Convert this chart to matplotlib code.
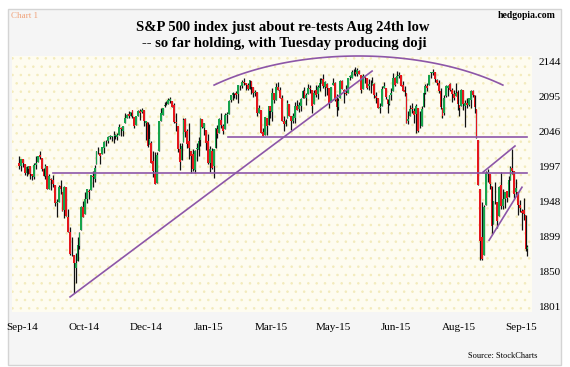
import numpy as np
import matplotlib.pyplot as plt
from matplotlib.patches import Rectangle

# S&P 500 daily candles, 4 Sep 2014 .. 29 Sep 2015
opens = [
    2002, 1998, 2007, 2001, 1988, 1993, 1997, 1986, 1982, 1999, 2003, 2013, 2009, 1993, 1983, 1997, 1966, 1979, 1978,
    1971, 1946, 1948, 1970, 1962, 1936, 1968, 1926, 1906, 1877, 1874, 1856, 1865, 1886, 1909, 1941, 1931, 1952, 1963, 1964, 1983, 1979, 2001,
    2018, 2016, 2015, 2023, 2032, 2032, 2038, 2038, 2039, 2040, 2038, 2041, 2051, 2046, 2057, 2065, 2070, 2067, 2075,
    2066, 2055, 2067, 2074, 2073, 2075, 2057, 2059, 2028, 2030, 2005, 1987, 1974, 2019, 2061, 2069, 2081, 2083, 2084, 2088, 2088, 2082,
    2059, 2054, 2022, 2006, 2031, 2063, 2046, 2032, 2018, 2014, 1992, 2021, 2020, 2034, 2063, 2050, 2048, 2032, 2002, 2019,
    1997, 2023, 2049, 2043, 2062, 2053, 2049, 2069, 2070, 2089, 2096, 2099, 2099, 2098, 2110, 2109, 2115, 2114, 2111,
    2105, 2116, 2108, 2099, 2101, 2072, 2076, 2045, 2041, 2065, 2055, 2081, 2073, 2099, 2090, 2108, 2104, 2093, 2060, 2056, 2064, 2084,
    2068, 2060, 2065, 2081, 2077, 2081, 2092, 2102, 2092, 2098, 2106, 2103, 2084, 2103, 2098, 2107, 2113, 2119, 2108, 2112, 2106,
    2087, 2110, 2113, 2091, 2080, 2092, 2116, 2103, 2100, 2100, 2122, 2121, 2129, 2128, 2126, 2130, 2125, 2105, 2122, 2121,
    2109, 2110, 2111, 2112, 2095, 2092, 2079, 2081, 2106, 2107, 2091, 2084, 2097, 2102, 2121, 2113, 2123, 2124, 2110, 2103, 2099, 2061,
    2067, 2078, 2074, 2070, 2078, 2050, 2053, 2080, 2100, 2109, 2111, 2127, 2127, 2128, 2118, 2114, 2102, 2078, 2071, 2095, 2107, 2112,
    2104, 2098, 2095, 2101, 2083, 2081, 2103, 2081, 2086, 2083, 2090, 2102, 2096, 2077, 2034, 1965, 1898, 1873, 1943, 1986, 1987,
    1970, 1917, 1951, 1948, 1928, 1971, 1942, 1951, 1963, 1955, 1978, 1995, 1990, 1961, 1961, 1943, 1935, 1936, 1929, 1882,
]
highs = [
    2011, 2008, 2007, 2001, 1997, 1998, 1997, 1987, 2002, 2011, 2012, 2019, 2009, 1995, 2000, 1997, 1986, 1981, 1985,
    1971, 1952, 1971, 1978, 1962, 1970, 1968, 1937, 1912, 1899, 1874, 1876, 1898, 1905, 1942, 1949, 1962, 1965, 1965, 1985, 1991, 1999, 2018,
    2024, 2016, 2024, 2032, 2034, 2039, 2041, 2040, 2046, 2042, 2043, 2056, 2052, 2054, 2071, 2070, 2074, 2073, 2076,
    2066, 2068, 2076, 2077, 2079, 2076, 2061, 2059, 2056, 2032, 2019, 2017, 2017, 2061, 2078, 2079, 2087, 2088, 2093, 2094, 2088, 2086,
    2072, 2054, 2030, 2030, 2064, 2064, 2049, 2057, 2018, 2021, 2020, 2029, 2038, 2065, 2063, 2058, 2048, 2042, 2025, 2023,
    2022, 2050, 2055, 2064, 2072, 2056, 2071, 2073, 2089, 2097, 2101, 2100, 2102, 2111, 2110, 2118, 2120, 2114, 2113,
    2118, 2116, 2108, 2104, 2101, 2083, 2076, 2050, 2066, 2065, 2081, 2081, 2107, 2099, 2114, 2115, 2108, 2097, 2067, 2063, 2089, 2084,
    2068, 2072, 2087, 2090, 2087, 2093, 2103, 2108, 2099, 2112, 2111, 2103, 2104, 2110, 2110, 2120, 2121, 2126, 2116, 2114, 2106,
    2108, 2121, 2115, 2098, 2093, 2118, 2118, 2105, 2110, 2121, 2124, 2132, 2133, 2135, 2134, 2132, 2125, 2126, 2122, 2121,
    2119, 2118, 2122, 2113, 2101, 2093, 2086, 2109, 2115, 2107, 2091, 2097, 2107, 2127, 2122, 2130, 2128, 2125, 2116, 2109, 2099, 2074,
    2083, 2085, 2079, 2084, 2078, 2074, 2081, 2101, 2112, 2114, 2124, 2129, 2133, 2128, 2119, 2117, 2106, 2078, 2096, 2111, 2110, 2114,
    2106, 2103, 2113, 2103, 2083, 2105, 2103, 2089, 2093, 2092, 2103, 2103, 2096, 2077, 2034, 1965, 1948, 1943, 1990, 1993, 1987,
    1970, 1949, 1975, 1948, 1970, 1989, 1965, 1961, 1963, 1983, 1997, 2021, 1990, 1980, 1961, 1950, 1937, 1953, 1929, 1887,
]
lows = [
    1993, 1990, 1996, 1985, 1983, 1986, 1980, 1978, 1979, 1993, 2003, 2007, 1991, 1983, 1979, 1966, 1966, 1964, 1969,
    1942, 1926, 1948, 1958, 1935, 1925, 1928, 1906, 1874, 1872, 1821, 1835, 1865, 1882, 1909, 1927, 1931, 1946, 1951, 1964, 1969, 1975, 2001,
    2014, 2001, 2014, 2016, 2025, 2030, 2035, 2032, 2030, 2035, 2034, 2041, 2040, 2040, 2057, 2065, 2065, 2067, 2065,
    2050, 2055, 2067, 2062, 2071, 2054, 2034, 2024, 2028, 2002, 1982, 1973, 1974, 2019, 2061, 2069, 2080, 2082, 2084, 2086, 2080, 2058,
    2046, 2017, 1992, 2006, 2031, 2038, 2023, 2008, 1988, 1991, 1988, 2004, 2012, 2026, 2051, 2041, 2020, 2001, 1989, 1993,
    1981, 2023, 2037, 2043, 2050, 2042, 2049, 2058, 2070, 2087, 2090, 2092, 2091, 2085, 2103, 2106, 2110, 2104, 2104,
    2105, 2098, 2094, 2095, 2067, 2072, 2044, 2040, 2041, 2041, 2055, 2065, 2061, 2086, 2090, 2104, 2092, 2061, 2046, 2053, 2064, 2067,
    2048, 2057, 2057, 2076, 2073, 2074, 2092, 2092, 2083, 2098, 2100, 2072, 2084, 2094, 2091, 2102, 2113, 2107, 2095, 2097, 2078,
    2087, 2110, 2088, 2068, 2075, 2092, 2105, 2086, 2096, 2100, 2117, 2120, 2125, 2123, 2123, 2126, 2099, 2105, 2113, 2105,
    2103, 2099, 2110, 2093, 2086, 2079, 2072, 2081, 2106, 2091, 2072, 2082, 2089, 2102, 2109, 2113, 2120, 2109, 2102, 2095, 2057, 2056,
    2067, 2071, 2058, 2044, 2045, 2050, 2053, 2080, 2098, 2102, 2111, 2120, 2124, 2115, 2110, 2099, 2077, 2064, 2069, 2094, 2095, 2102,
    2087, 2089, 2095, 2076, 2068, 2081, 2076, 2052, 2078, 2081, 2079, 2094, 2071, 2036, 1971, 1867, 1867, 1873, 1943, 1975, 1966,
    1903, 1917, 1945, 1911, 1928, 1938, 1937, 1939, 1948, 1954, 1978, 1987, 1953, 1956, 1929, 1933, 1909, 1922, 1879, 1872,
]
closes = [
    1998, 2008, 2002, 1988, 1996, 1997, 1986, 1984, 1999, 2002, 2011, 2010, 1994, 1983, 1998, 1966, 1983, 1978, 1972,
    1946, 1946, 1968, 1965, 1935, 1969, 1928, 1906, 1875, 1878, 1862, 1863, 1887, 1904, 1941, 1927, 1951, 1965, 1962, 1985, 1982, 1995, 2018,
    2018, 2012, 2024, 2031, 2032, 2038, 2040, 2038, 2039, 2040, 2041, 2052, 2049, 2053, 2064, 2069, 2067, 2073, 2068,
    2053, 2067, 2074, 2072, 2075, 2060, 2060, 2026, 2035, 2002, 1990, 1973, 2013, 2061, 2071, 2079, 2082, 2082, 2089, 2091, 2080, 2059,
    2058, 2021, 2003, 2026, 2062, 2045, 2028, 2023, 2011, 1993, 2019, 2023, 2032, 2063, 2052, 2057, 2030, 2002, 2021, 1995,
    2021, 2050, 2042, 2063, 2055, 2047, 2069, 2069, 2088, 2097, 2100, 2100, 2097, 2110, 2110, 2115, 2114, 2111, 2105,
    2117, 2108, 2099, 2101, 2071, 2079, 2044, 2040, 2066, 2053, 2081, 2074, 2100, 2089, 2108, 2104, 2092, 2061, 2056, 2061, 2086, 2068,
    2060, 2067, 2081, 2076, 2082, 2091, 2102, 2092, 2096, 2107, 2105, 2081, 2100, 2097, 2108, 2113, 2118, 2109, 2115, 2107, 2086,
    2108, 2114, 2089, 2080, 2088, 2116, 2105, 2099, 2098, 2121, 2123, 2129, 2128, 2126, 2131, 2126, 2104, 2123, 2121, 2107,
    2112, 2110, 2114, 2096, 2093, 2079, 2080, 2105, 2109, 2094, 2084, 2096, 2100, 2121, 2110, 2123, 2124, 2109, 2102, 2101, 2058, 2063,
    2077, 2077, 2069, 2081, 2047, 2051, 2077, 2100, 2109, 2107, 2124, 2127, 2128, 2119, 2114, 2102, 2080, 2068, 2093, 2109, 2109, 2104,
    2098, 2093, 2100, 2084, 2078, 2104, 2084, 2086, 2083, 2092, 2102, 2097, 2080, 2036, 1971, 1893, 1868, 1941, 1988, 1989, 1972,
    1914, 1949, 1951, 1921, 1969, 1942, 1952, 1961, 1953, 1978, 1995, 1990, 1958, 1967, 1943, 1939, 1932, 1931, 1882, 1884,
]

month_labels = ['Sep-14', 'Oct-14', 'Dec-14', 'Jan-15', 'Mar-15', 'May-15', 'Jun-15', 'Aug-15', 'Sep-15']
y_ticks = [1801, 1850, 1899, 1948, 1997, 2046, 2095, 2144]

# hand-drawn annotation lines: (bar index, level)
support_1 = [(18, 1988), (268.8, 1988)]
support_2 = [(110.6, 2038), (268.8, 2038)]
uptrend = [(27, 1815), (186.8, 2130)]
wedge_top = [(245.5, 1989), (262.4, 2025.5)]
wedge_bottom = [(248.7, 1894), (266.1, 1968)]

RED = '#e5161c'
GREEN = '#16a34c'
PURPLE = '#8d56a8'

plt.rcParams['font.family'] = ['Liberation Serif', 'DejaVu Serif']
plt.rcParams['hatch.linewidth'] = 0.6

o = np.array(opens, float)
h = np.array(highs, float)
l = np.array(lows, float)
c = np.array(closes, float)
x = np.arange(len(c))
up = c >= o

fig = plt.figure(figsize=(5.7, 3.67), dpi=100)
fig.patch.set_facecolor('white')
frame = Rectangle((8 / 570, 2 / 367), 553 / 570, 356 / 367, transform=fig.transFigure,
                  facecolor='#f5f5f5', edgecolor='#d4d4d4', lw=1, zorder=-10)
fig.add_artist(frame)

ax = fig.add_axes([12 / 570, 55 / 367, 520 / 570, 256 / 367], zorder=1)
ax.set_facecolor('#fefcf0')
ax.add_patch(Rectangle((0, 0), 1, 1, transform=ax.transAxes, facecolor='none',
                       edgecolor='#f3ebbb', hatch='..', lw=0, zorder=0))

ax.vlines(x, l, h, colors='#111111', lw=0.9, zorder=2)
body = np.maximum(np.abs(c - o), 1.0)
ax.bar(x[up], body[up], bottom=o[up], width=0.95, color=GREEN, lw=0, zorder=3)
ax.bar(x[~up], body[~up], bottom=c[~up], width=0.95, color=RED, lw=0, zorder=3)

for seg in [support_1, support_2, uptrend, wedge_top, wedge_bottom]:
    (x0, y0), (x1, y1) = seg
    ax.plot([x0, x1], [y0, y1], color=PURPLE, lw=1.2, zorder=4)

# rounding-top arc
t = np.linspace(np.radians(47), np.radians(133), 100)
ax.plot(179.6 + 112 * np.cos(t), 2000 + 151 * np.sin(t), color=PURPLE, lw=1.2, zorder=4, clip_on=False)

ax.set_xlim(-3.7, 271.4)
ax.set_ylim(1794, 2151)
ax.set_yticks(y_ticks)
ax.yaxis.tick_right()
ax.set_xticks(np.arange(len(month_labels)) * 33 + 1.5)
ax.set_xticklabels(month_labels)
ax.tick_params(axis='y', length=0, pad=5, labelsize=8)
ax.tick_params(axis='x', length=0, pad=8, labelsize=8)
for s in ax.spines.values():
    s.set_visible(False)

fig.text(11 / 570, 1 - 16 / 367, 'Chart 1', color='#f0a27a', fontsize=6.5, ha='left', va='center')
fig.text(556 / 570, 1 - 16 / 367, 'hedgopia.com', fontsize=7, fontweight='bold', ha='right', va='center')
fig.text(283 / 570, 1 - 28 / 367, 'S&P 500 index just about re-tests Aug 24th low',
         fontsize=10.5, fontweight='bold', ha='center', va='center')
fig.text(284 / 570, 1 - 44 / 367, '-- so far holding, with Tuesday producing doji',
         fontsize=10.5, fontweight='bold', ha='center', va='center')
fig.text(537 / 570, 1 - 356 / 367, 'Source: StockCharts', fontsize=6, ha='right', va='center')

fig.savefig('out.png', dpi=100)
